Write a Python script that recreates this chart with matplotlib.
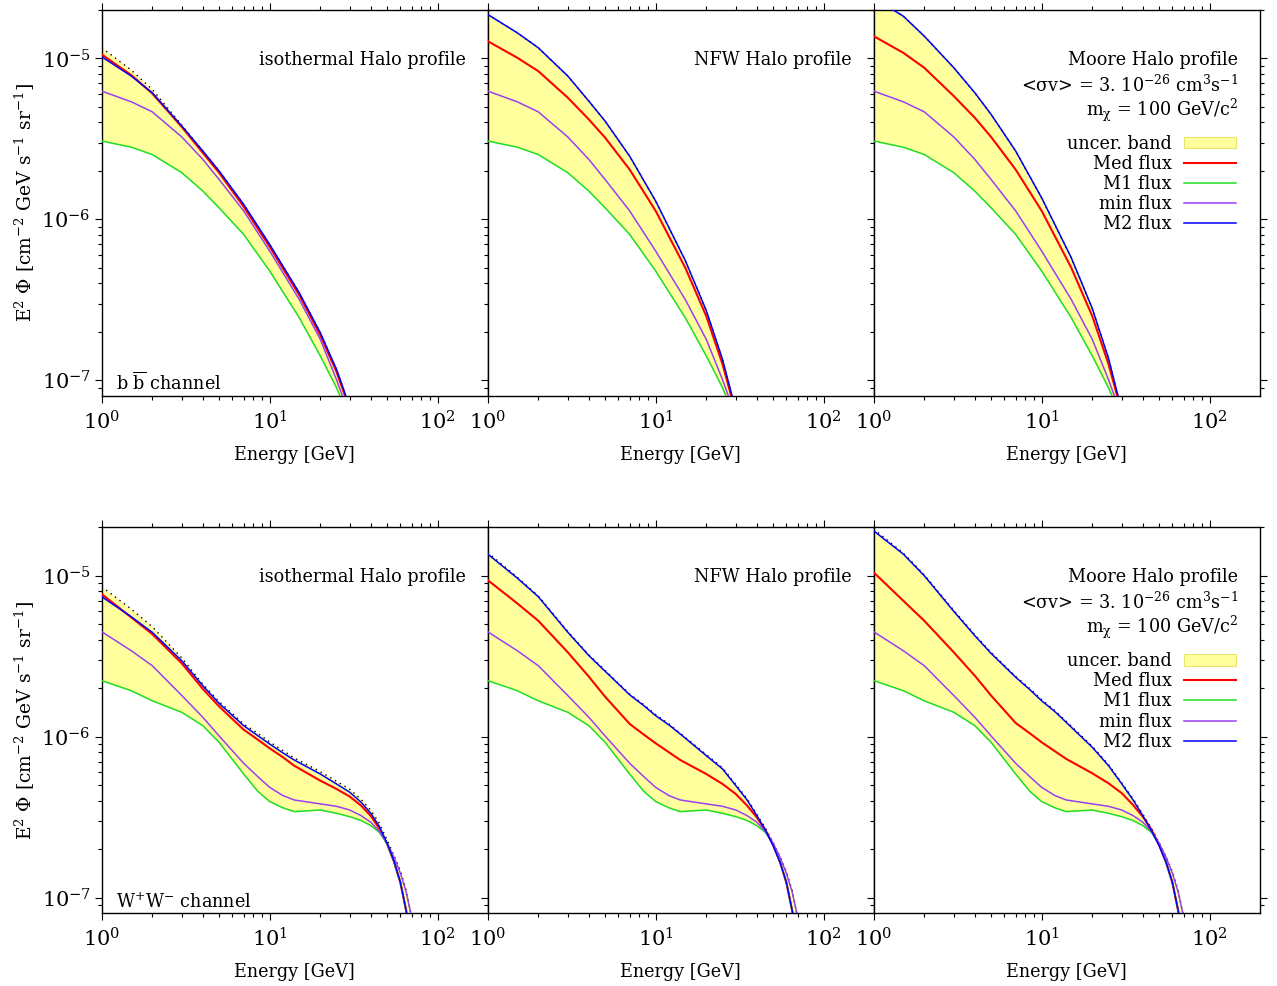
import matplotlib
matplotlib.use("Agg")
import matplotlib.pyplot as plt
from matplotlib.lines import Line2D
from matplotlib.patches import Patch
from matplotlib.ticker import LogLocator, NullFormatter

plt.rcParams['font.family'] = ['DejaVu Serif']
plt.rcParams['mathtext.fontset'] = 'dejavuserif'
plt.rcParams['font.size'] = 12.7

# ---------------- b bbar channel ----------------
E_bb = [1, 1.5, 2, 3, 4, 5, 7, 10, 15, 20, 25, 28, 32]
min_bb = [6.27e-6, 5.38e-6, 4.66e-6, 3.25e-6, 2.36e-6, 1.77e-6, 1.13e-6, 6.36e-7, 3.18e-7, 1.80e-7, 1.01e-7, 7.27e-8, 4.40e-8]
m1_bb = [3.07e-6, 2.81e-6, 2.53e-6, 1.95e-6, 1.50e-6, 1.18e-6, 8.07e-7, 4.78e-7, 2.45e-7, 1.42e-7, 9.00e-8, 6.76e-8, 4.20e-8]
iso_med_bb = [1.059e-5, 7.88e-6, 6.06e-6, 3.75e-6, 2.59e-6, 1.95e-6, 1.20e-6, 6.76e-7, 3.39e-7, 1.91e-7, 1.13e-7, 8.11e-8, 5.03e-8]
iso_m2_bb = [1.024e-5, 7.77e-6, 6.12e-6, 3.80e-6, 2.66e-6, 2.00e-6, 1.24e-6, 6.99e-7, 3.50e-7, 1.98e-7, 1.17e-7, 8.38e-8, 5.21e-8]
iso_top_bb = [1.165e-5, 8.46e-6, 6.42e-6, 3.85e-6, 2.66e-6, 2.00e-6, 1.24e-6, 6.99e-7, 3.50e-7, 1.98e-7, 1.17e-7, 8.38e-8, 5.21e-8]
nfw_med_bb = [1.281e-5, 1.010e-5, 8.34e-6, 5.70e-6, 4.18e-6, 3.22e-6, 2.04e-6, 1.13e-6, 5.01e-7, 2.51e-7, 1.26e-7, 8.18e-8, 4.96e-8]
nfw_m2_bb = [1.877e-5, 1.443e-5, 1.165e-5, 7.77e-6, 5.43e-6, 4.08e-6, 2.47e-6, 1.30e-6, 5.56e-7, 2.72e-7, 1.35e-7, 8.58e-8, 5.08e-8]
moore_med_bb = [1.376e-5, 1.084e-5, 8.75e-6, 5.83e-6, 4.28e-6, 3.25e-6, 2.04e-6, 1.13e-6, 5.01e-7, 2.51e-7, 1.26e-7, 8.18e-8, 4.96e-8]
moore_m2_bb = [2.38e-5, 1.832e-5, 1.376e-5, 8.75e-6, 6.12e-6, 4.49e-6, 2.66e-6, 1.36e-6, 5.78e-7, 2.80e-7, 1.37e-7, 8.58e-8, 5.08e-8]

# ---------------- W+W- channel ----------------
E_ww = [1, 1.5, 2, 3, 4, 5, 7, 8.5, 10, 12, 14, 20, 25, 30, 35, 40, 45, 50, 55, 60, 65, 70]
min_ww = [4.49e-6, 3.42e-6, 2.76e-6, 1.80e-6, 1.32e-6, 1.01e-6, 6.83e-7, 5.64e-7, 4.84e-7, 4.30e-7, 4.04e-7, 3.82e-7,
          3.69e-7, 3.50e-7, 3.23e-7, 2.94e-7, 2.58e-7, 2.18e-7, 1.78e-7, 1.416e-7, 1.079e-7, 7.55e-8]
m1_ww = [2.23e-6, 1.93e-6, 1.67e-6, 1.416e-6, 1.17e-6, 9.22e-7, 5.86e-7, 4.57e-7, 3.95e-7, 3.61e-7, 3.42e-7, 3.50e-7,
         3.34e-7, 3.18e-7, 3.01e-7, 2.80e-7, 2.54e-7, 2.15e-7, 1.658e-7, 1.245e-7, 8.30e-8, 5.16e-8]
iso_med_ww = [7.69e-6, 5.51e-6, 4.34e-6, 2.85e-6, 1.98e-6, 1.54e-6, 1.105e-6, 9.58e-7, 8.46e-7, 7.44e-7, 6.60e-7, 5.33e-7,
              4.73e-7, 4.24e-7, 3.73e-7, 3.21e-7, 2.68e-7, 2.15e-7, 1.665e-7, 1.233e-7, 8.22e-8, 5.11e-8]
iso_m2_ww = [7.41e-6, 5.56e-6, 4.45e-6, 2.96e-6, 2.07e-6, 1.61e-6, 1.17e-6, 1.014e-6, 9.00e-7, 7.92e-7, 7.16e-7, 5.86e-7,
             5.08e-7, 4.51e-7, 3.91e-7, 3.34e-7, 2.76e-7, 2.18e-7, 1.68e-7, 1.245e-7, 8.30e-8, 5.16e-8]
iso_top_ww = [8.54e-6, 6.21e-6, 4.82e-6, 3.08e-6, 2.12e-6, 1.65e-6, 1.20e-6, 1.049e-6, 9.27e-7, 8.19e-7, 7.37e-7, 6.06e-7,
              5.28e-7, 4.71e-7, 4.08e-7, 3.49e-7, 2.89e-7, 2.28e-7, 1.82e-7, 1.47e-7, 1.105e-7, 7.55e-8]
nfw_med_ww = [9.39e-6, 6.73e-6, 5.25e-6, 3.34e-6, 2.36e-6, 1.77e-6, 1.20e-6, 1.029e-6, 9.09e-7, 7.99e-7, 7.16e-7, 5.86e-7,
              5.08e-7, 4.40e-7, 3.73e-7, 3.15e-7, 2.63e-7, 2.13e-7, 1.658e-7, 1.233e-7, 8.22e-8, 5.11e-8]
nfw_m2_ww = [1.364e-5, 9.67e-6, 7.41e-6, 4.45e-6, 3.19e-6, 2.55e-6, 1.82e-6, 1.558e-6, 1.35e-6, 1.182e-6, 1.039e-6, 7.62e-7,
             6.30e-7, 4.96e-7, 4.04e-7, 3.23e-7, 2.63e-7, 2.10e-7, 1.658e-7, 1.245e-7, 8.30e-8, 5.16e-8]
nfw_top_ww = [1.396e-5, 9.80e-6, 7.50e-6, 4.50e-6, 3.23e-6, 2.58e-6, 1.84e-6, 1.58e-6, 1.37e-6, 1.20e-6, 1.05e-6, 7.75e-7,
              6.40e-7, 5.05e-7, 4.12e-7, 3.30e-7, 2.70e-7, 2.20e-7, 1.80e-7, 1.45e-7, 1.105e-7, 7.55e-8]
moore_med_ww = [1.049e-5, 6.99e-6, 5.25e-6, 3.34e-6, 2.39e-6, 1.80e-6, 1.216e-6, 1.049e-6, 9.22e-7, 8.11e-7, 7.27e-7, 5.92e-7,
                5.13e-7, 4.45e-7, 3.76e-7, 3.18e-7, 2.65e-7, 2.13e-7, 1.658e-7, 1.233e-7, 8.22e-8, 5.11e-8]
moore_m2_ww = [1.90e-5, 1.364e-5, 1.00e-5, 6.00e-6, 4.24e-6, 3.29e-6, 2.34e-6, 1.959e-6, 1.67e-6, 1.43e-6, 1.227e-6, 8.59e-7,
               6.60e-7, 5.08e-7, 4.04e-7, 3.23e-7, 2.61e-7, 2.10e-7, 1.658e-7, 1.245e-7, 8.30e-8, 5.16e-8]
moore_top_ww = [1.95e-5, 1.385e-5, 1.015e-5, 6.09e-6, 4.30e-6, 3.34e-6, 2.37e-6, 1.99e-6, 1.70e-6, 1.45e-6, 1.245e-6, 8.72e-7,
                6.70e-7, 5.16e-7, 4.12e-7, 3.30e-7, 2.70e-7, 2.20e-7, 1.80e-7, 1.45e-7, 1.105e-7, 7.55e-8]

profiles = ["isothermal Halo profile", "NFW Halo profile", "Moore Halo profile"]
channels = [r"b $\overline{\mathrm{b}}$ channel", r"W$^{+}$W$^{-}$ channel"]
legend_labels = ["uncer. band", "Med flux", "M1 flux", "min flux", "M2 flux"]
ylabel = r"E$^2$ $\Phi$ [cm$^{-2}$ GeV s$^{-1}$ sr$^{-1}$]"
xlabel = "Energy [GeV]"
sigma_text = r"<σv> = 3. 10$^{-26}$ cm$^{3}$s$^{-1}$"
mass_text = r"m$_{\mathrm{χ}}$ = 100 GeV/c$^{2}$"

panels = [
    [(E_bb, iso_top_bb, m1_bb, iso_med_bb, min_bb, iso_m2_bb),
     (E_bb, nfw_m2_bb, m1_bb, nfw_med_bb, min_bb, nfw_m2_bb),
     (E_bb, moore_m2_bb, m1_bb, moore_med_bb, min_bb, moore_m2_bb)],
    [(E_ww, iso_top_ww, m1_ww, iso_med_ww, min_ww, iso_m2_ww),
     (E_ww, nfw_top_ww, m1_ww, nfw_med_ww, min_ww, nfw_m2_ww),
     (E_ww, moore_top_ww, m1_ww, moore_med_ww, min_ww, moore_m2_ww)],
]

C_BAND = '#ffff9e'
C_MED = '#ff0000'
C_M1 = '#1fdd1f'
C_MIN = '#9b3ff0'
C_M2 = '#0000ff'

W, H = 1277, 986
fig = plt.figure(figsize=(W / 100, H / 100), dpi=100)
rows = [(10.0, 395.5), (527.3, 912.7)]
cols = [101.7, 487.7, 873.7]
pw = 386.0

for r, (yt, yb) in enumerate(rows):
    for c, x0 in enumerate(cols):
        ax = fig.add_axes([x0 / W, 1 - yb / H, pw / W, (yb - yt) / H])
        E, top, m1, med, mn, m2 = panels[r][c]
        ax.fill_between(E, m1, top, color=C_BAND, lw=0, zorder=1)
        ax.plot(E, top, color='black', lw=1.0, ls=(0, (1, 3)), zorder=2)
        ax.plot(E, med, color=C_MED, lw=1.5, zorder=3)
        ax.plot(E, m1, color=C_M1, lw=1.1, zorder=3)
        ax.plot(E, mn, color=C_MIN, lw=1.1, zorder=3)
        ax.plot(E, m2, color=C_M2, lw=1.1, zorder=4)
        ax.set_xscale('log')
        ax.set_yscale('log')
        ax.set_xlim(1, 198.6)
        ax.set_ylim(8.05e-8, 2.0e-5)
        ax.xaxis.set_minor_locator(LogLocator(base=10, subs=range(2, 10)))
        ax.yaxis.set_minor_locator(LogLocator(base=10, subs=range(2, 10)))
        ax.xaxis.set_minor_formatter(NullFormatter())
        ax.yaxis.set_minor_formatter(NullFormatter())
        ax.tick_params(which='both', direction='out', top=True, right=True, width=0.8, labelsize=15)
        ax.tick_params(which='major', length=4.8, pad=3)
        ax.tick_params(which='minor', length=2.8)
        ax.tick_params(axis='x', which='major', pad=5.5)
        for s in ax.spines.values():
            s.set_linewidth(1.0)
        if c > 0:
            ax.tick_params(labelleft=False)
        ax.set_xlabel(xlabel, fontsize=12.7, labelpad=9)
        ax.text(0.944, 0.857, profiles[c], transform=ax.transAxes, ha='right', va='baseline')
        if c == 0:
            ax.text(0.037, 0.013, channels[r], transform=ax.transAxes, ha='left', va='baseline')
        if c == 2:
            ax.text(0.944, 0.788, sigma_text, transform=ax.transAxes, ha='right', va='baseline')
            ax.text(0.944, 0.726, mass_text, transform=ax.transAxes, ha='right', va='baseline')
            handles = [Patch(facecolor=C_BAND, edgecolor='#e6e66a', lw=0.8),
                       Line2D([], [], color=C_MED, lw=1.5),
                       Line2D([], [], color=C_M1, lw=1.1),
                       Line2D([], [], color=C_MIN, lw=1.1),
                       Line2D([], [], color=C_M2, lw=1.1)]
            ax.legend(handles, legend_labels, loc='upper right', bbox_to_anchor=(0.9386, 0.676),
                      frameon=False, markerfirst=False, fontsize=12.7, borderpad=0, borderaxespad=0,
                      labelspacing=0.12, handlelength=2.95, handletextpad=0.7, handleheight=0.6)
    fig.text(25 / W, 1 - ((yt + yb) / 2) / H, ylabel, rotation=90, ha='center', va='center', fontsize=13.5)

fig.savefig('out.png', dpi=100)
